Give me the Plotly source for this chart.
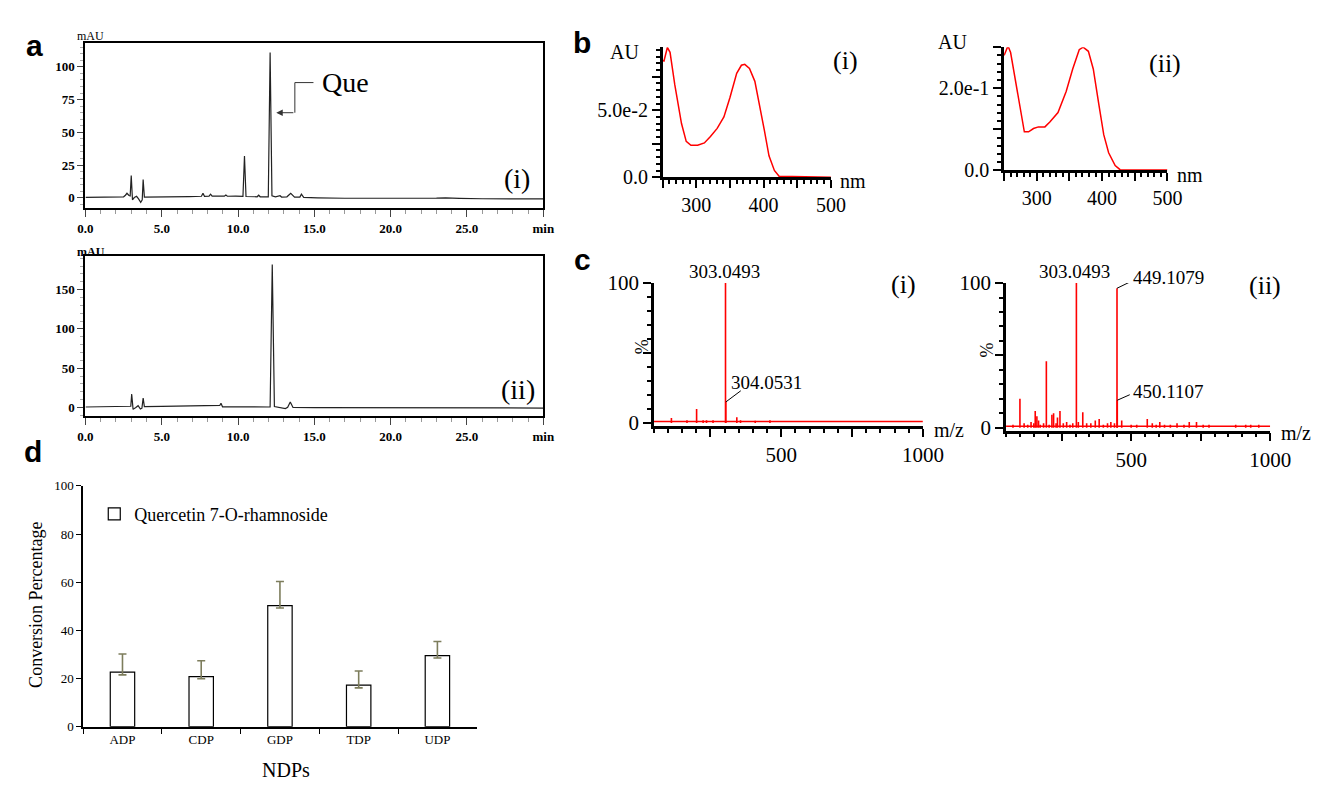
import plotly.graph_objects as go

W, H = 1336, 785
def fx(p): return p / W
def fy(p): return 1 - p / H

SERIF = "Liberation Serif"
SANS = "Liberation Sans"

# ---------------- data ----------------
# (a) HPLC chromatograms, retention time (min) vs absorbance (mAU)
chrom1_min = [0, 1.5, 2.5, 2.62, 2.72, 2.85, 2.93, 3.0, 3.08, 3.2, 3.35, 3.48, 3.62, 3.72, 3.78, 3.86,
              4.5, 6.8, 7.6, 7.7, 7.8, 8.1, 8.2, 8.3, 9.1, 9.2, 9.3, 9.75, 9.85, 10.32, 10.42, 10.52,
              11.25, 11.35, 11.45, 11.98, 12.1, 12.22, 12.45, 12.75, 12.85, 13.2, 13.45, 13.7, 14.05,
              14.15, 14.3, 15.2, 17.0, 23.0, 23.6, 24.5, 26.0, 30.0]
chrom1_mAU = [0.3, 0.4, 0.8, 2.0, 3.5, 1.8, 1.5, 17, -1.5, 0.2, 1.2, -0.8, -3.5, -1.5, 14, 0.6,
              0.6, 1.0, 1.2, 3.5, 1.2, 1.3, 2.8, 1.3, 1.3, 2.2, 1.2, 1.6, 1.3, 1.2, 32, 1.0,
              0.8, 2.0, 0.8, 0.8, 111, 1.5, 0.8, 1.6, 0.6, 0.8, 3.5, 0.5, 0.6,
              2.8, 0.3, 0.0, -0.3, -0.2, 0.0, -0.4, -0.7, -0.8]
chrom2_min = [0, 2.9, 2.97, 3.03, 3.12, 3.3, 3.45, 3.6, 3.7, 3.78, 3.86, 5.0, 8.7, 8.8, 8.88, 8.98,
              12.1, 12.24, 12.38, 12.6, 13.1, 13.25, 13.42, 13.6, 15.0, 30.0]
chrom2_mAU = [0.5, 1.0, 1.5, 17, -2.5, 0.0, 2.2, -2.0, -1.0, 12, 1.0, 1.2, 1.6, 2.5, 5.2, 0.8,
              0.5, 182, 1.0, 0.0, -1.5, 0.2, 7.0, 0.0, -0.2, -0.8]
que_label_rt = 12.1

# (b) UV spectra
uv1_nm = [250, 252, 257, 261, 268, 278, 285, 292, 302, 312, 321, 331, 341, 350, 360, 367, 372,
          379, 387, 394, 401, 408, 416, 423, 500]
uv1_AU = [0.0872, 0.0868, 0.0969, 0.0933, 0.0691, 0.0401, 0.0268, 0.0239, 0.0239, 0.0256, 0.0305,
          0.0365, 0.0450, 0.0595, 0.0776, 0.0836, 0.0843, 0.0812, 0.0716, 0.0546, 0.0353, 0.0160,
          0.0051, 0.0007, 0.0]
uv2_nm = [250, 256, 260, 267.5, 275, 281, 287.5, 295, 302.5, 312.5, 320, 332.5, 345, 355, 365, 371,
          379, 386.5, 395, 402.5, 410, 420, 427.5, 500]
uv2_AU = [0.28, 0.303, 0.287, 0.22, 0.153, 0.094, 0.094, 0.102, 0.106, 0.106, 0.118, 0.141, 0.192,
          0.247, 0.294, 0.300, 0.290, 0.247, 0.161, 0.087, 0.043, 0.012, 0.002, 0.001]

# (c) mass spectra (relative intensity %)
ms1_mz = [112, 167, 201, 224, 236, 259, 303.0493, 304.0531, 343, 356, 408, 460]
ms1_pct = [3.5, 2.0, 10, 2.0, 2.0, 2.0, 100, 15, 4.0, 2.0, 1.5, 2.0]
ms2_mz = [75, 100, 115, 128, 140, 150, 155, 161, 167, 173, 185, 195, 205, 215, 221, 230, 235, 244,
          256, 268, 280, 290, 303.0493, 310, 326, 340, 355, 371, 385, 400, 415, 427, 440, 449.1079,
          450.1107, 466, 500, 520, 558, 576, 590, 603, 620, 641, 665, 690, 709, 735, 759, 780, 876,
          912, 930, 959]
ms2_pct = [2, 20, 3, 2, 4, 3, 11.6, 8, 5, 2, 3, 46, 2, 9, 10, 3, 7, 11.6, 3, 4, 2, 3, 100, 4, 10.7,
           3, 3, 5, 6, 2, 3, 4, 3, 96.4, 19, 5, 2, 2, 6, 3, 2, 4, 2, 2, 3, 2, 4, 4, 2, 2, 2, 2, 2, 2]
ms_floor_pct = 1.0
ms_mz_span = [50, 1000]

# (d) conversion with NDPs
ndp_names = ["ADP", "CDP", "GDP", "TDP", "UDP"]
conversion_pct = [22.7, 20.8, 50.3, 17.3, 29.5]
conversion_err_plus = [7.5, 6.6, 10.0, 5.8, 5.9]
conversion_err_minus = [1.2, 0.9, 1.0, 1.2, 1.0]


def sticks(mz, pct):
    xs, ys = [], []
    for m, p in zip(mz, pct):
        xs += [m, m, None]
        ys += [0, p, None]
    return xs, ys


fig = go.Figure()

# a
fig.add_trace(go.Scatter(x=chrom1_min, y=chrom1_mAU, mode="lines", line=dict(color="#222", width=1.2),
                         xaxis="x", yaxis="y", showlegend=False, name="chromatogram (i)"))
fig.add_trace(go.Scatter(x=chrom2_min, y=chrom2_mAU, mode="lines", line=dict(color="#222", width=1.2),
                         xaxis="x2", yaxis="y2", showlegend=False, name="chromatogram (ii)"))
# b
fig.add_trace(go.Scatter(x=uv1_nm, y=uv1_AU, mode="lines", line=dict(color="#ff0000", width=1.5),
                         xaxis="x3", yaxis="y3", showlegend=False, name="UV (i)"))
fig.add_trace(go.Scatter(x=uv2_nm, y=uv2_AU, mode="lines", line=dict(color="#ff0000", width=1.5),
                         xaxis="x4", yaxis="y4", showlegend=False, name="UV (ii)"))
# c
for xa, ya, mz, pct in (("x5", "y5", ms1_mz, ms1_pct), ("x6", "y6", ms2_mz, ms2_pct)):
    fig.add_trace(go.Scatter(x=ms_mz_span, y=[ms_floor_pct] * 2, mode="lines",
                             line=dict(color="#ff0000", width=1.5), xaxis=xa, yaxis=ya, showlegend=False))
    sx, sy = sticks(mz, pct)
    fig.add_trace(go.Scatter(x=sx, y=sy, mode="lines", line=dict(color="#ff0000", width=1.6),
                             xaxis=xa, yaxis=ya, showlegend=False, connectgaps=False))
# d
fig.add_trace(go.Bar(x=ndp_names, y=conversion_pct, width=0.31, name="Quercetin 7-O-rhamnoside",
                     marker=dict(color="white", line=dict(color="black", width=1.2)),
                     error_y=dict(type="data", symmetric=False, array=conversion_err_plus,
                                  arrayminus=conversion_err_minus, color="#7d7d5c", thickness=1.6, width=4),
                     xaxis="x7", yaxis="y7", showlegend=True))

tick_bold = dict(family=SERIF, size=13, color="black", weight="bold")
a_x = dict(range=[0, 30], tickmode="array", tickvals=[0, 5, 10, 15, 20, 25, 30],
           ticktext=["0.0", "5.0", "10.0", "15.0", "20.0", "25.0", "min"],
           ticks="outside", ticklen=7, tickwidth=1, tickcolor="#444",
           minor=dict(tickmode="linear", tick0=0, dtick=1, ticks="outside", ticklen=4, tickwidth=1, tickcolor="#999"),
           showline=True, mirror=True, linecolor="black", linewidth=2, showgrid=False, zeroline=False,
           tickfont=tick_bold, domain=[fx(71), fx(539)])


def a_y(rng, vals, mdt, dom):
    return dict(range=rng, tickmode="array", tickvals=vals, ticks="outside", ticklen=6, tickwidth=1,
                tickcolor="#444",
                minor=dict(tickmode="linear", tick0=0, dtick=mdt, ticks="outside", ticklen=3, tickwidth=1,
                           tickcolor="#aaa"),
                showline=True, mirror=True, linecolor="black", linewidth=2, showgrid=False, zeroline=False,
                tickfont=tick_bold, domain=dom)


def spec_x(dom, rng, vals, text, mt0, mdt, size):
    return dict(range=rng, tickmode="array", tickvals=vals, ticktext=text, ticks="outside", ticklen=8,
                tickwidth=2, tickcolor="black",
                minor=dict(tickmode="linear", tick0=mt0, dtick=mdt, ticks="outside", ticklen=4, tickwidth=1.5,
                           tickcolor="black"),
                showline=True, linecolor="black", linewidth=2.5, showgrid=False, zeroline=False,
                tickfont=dict(family=SERIF, size=size, color="black"), domain=dom)


def spec_y(dom, rng, vals, text, mdt, size):
    return dict(range=rng, tickmode="array", tickvals=vals, ticktext=text, ticks="outside", ticklen=8,
                tickwidth=2, tickcolor="black",
                minor=dict(tickmode="linear", tick0=0, dtick=mdt, ticks="outside", ticklen=4, tickwidth=1.5,
                           tickcolor="black"),
                showline=True, linecolor="black", linewidth=2.5, showgrid=False, zeroline=False,
                tickfont=dict(family=SERIF, size=size, color="black"), domain=dom)


bx_vals = [250, 300, 350, 400, 450, 500]
bx_text = ["", "300", "", "400", "", "500"]
cx_vals = [250, 500, 750, 1000]
cx_text = ["", "500", "", "1000"]

fig.update_layout(
    width=W, height=H, margin=dict(l=0, r=0, t=0, b=0), paper_bgcolor="white", plot_bgcolor="white",
    font=dict(family=SERIF, color="black"),
    xaxis=dict(a_x, anchor="y"),
    yaxis=dict(a_y([-8, 118], [0, 25, 50, 75, 100], 5, [fy(194), fy(24)]), anchor="x"),
    xaxis2=dict(a_x, anchor="y2"),
    yaxis2=dict(a_y([-11, 193], [0, 50, 100, 150], 10, [fy(408), fy(243)]), anchor="x2"),
    xaxis3=dict(spec_x([fx(661), fx(833)], [250, 500], bx_vals, bx_text, 250, 10, 20), anchor="y3"),
    yaxis3=dict(spec_y([fy(162), fy(28)], [0, 0.0971], [0, 0.025, 0.05, 0.075], ["0.0", "", "5.0e-2", ""],
                       0.005, 20), anchor="x3"),
    xaxis4=dict(spec_x([fx(1010), fx(1177)], [250, 500], bx_vals, bx_text, 250, 10, 20), anchor="y4"),
    yaxis4=dict(spec_y([fy(155), fy(28)], [0, 0.3], [0, 0.1, 0.2, 0.3], ["0.0", "", "2.0e-1", ""],
                       0.02, 20), anchor="x4"),
    xaxis5=dict(spec_x([fx(652), fx(927)], ms_mz_span, cx_vals, cx_text, 50, 50, 21), anchor="y5"),
    yaxis5=dict(spec_y([fy(418), fy(271)], [-2, 100], [0, 50, 100], ["0", "", "100"], 10, 21), anchor="x5"),
    xaxis6=dict(spec_x([fx(1012), fx(1282)], ms_mz_span, cx_vals, cx_text, 50, 50, 21), anchor="y6"),
    yaxis6=dict(spec_y([fy(423), fy(271)], [-2, 100], [0, 50, 100], ["0", "", "100"], 10, 21), anchor="x6"),
    xaxis7=dict(domain=[fx(68.6), fx(471)], type="category", tickson="boundaries", ticks="outside", ticklen=5,
                tickcolor="black", showline=True, linecolor="black", linewidth=2, showgrid=False,
                tickfont=dict(family=SERIF, size=13, color="black"), anchor="y7"),
    yaxis7=dict(domain=[fy(728), fy(480)], range=[0, 100], dtick=20, ticks="outside", ticklen=5,
                tickcolor="black", showline=True, linecolor="black", linewidth=1.5, showgrid=False,
                zeroline=False, tickfont=dict(family=SERIF, size=13, color="black"), anchor="x7"),
    legend=dict(x=fx(80), y=fy(509), xanchor="left", yanchor="middle", bgcolor="rgba(0,0,0,0)",
                font=dict(family=SERIF, size=18, color="black")),
    bargap=0.5,
)

ann = []


def ptext(text, x, y, size, family=SERIF, bold=False, angle=0, xanchor="center"):
    ann.append(dict(text=text, x=fx(x), y=fy(y), xref="paper", yref="paper", showarrow=False,
                    xanchor=xanchor, yanchor="middle", textangle=angle,
                    font=dict(family=family, size=size, color="black", weight="bold" if bold else "normal")))


def dtext(text, x, y, xr, yr, size, xanchor="center"):
    ann.append(dict(text=text, x=x, y=y, xref=xr, yref=yr, showarrow=False, xanchor=xanchor, yanchor="middle",
                    font=dict(family=SERIF, size=size, color="black")))


# panel letters
ptext("a", 19, 26, 30, SANS, True)
ptext("b", 579, 23, 30, SANS, True)
ptext("c", 579, 247, 30, SANS, True)
ptext("d", 17, 445, 30, SANS, True)

# a texts
ptext("mAU", 76, 16, 12)
ptext("<b>mAU</b>", 77, 239, 12)
ptext("(i)", 512, 163, 28)
ptext("(ii)", 513, 381, 28)
dtext("Que", que_label_rt + 3.3, 88, "x", "y", 28, xanchor="left")
ann.append(dict(x=que_label_rt + 0.4, y=65, ax=que_label_rt + 1.62, ay=65, xref="x", yref="y", axref="x",
                ayref="y", text="", showarrow=True, arrowhead=2, arrowsize=1.3, arrowwidth=1,
                arrowcolor="#333", standoff=0))

# b texts
ptext("AU", 622, 33, 20)
ptext("(i)", 848, 42, 26)
ptext("nm", 856, 166, 20)
ptext("AU", 957, 23, 20)
ptext("(ii)", 1175, 45, 26)
ptext("nm", 1200, 160, 20)

# c texts (peak labels in paper space, above the 100 % line)
ptext("303.0493", 724, 259, 19)
dtext("304.0531", 316, 29.2, "x5", "y5", 19, xanchor="left")
ptext("(i)", 907, 272, 26)
ptext("m/z", 954, 422, 20)
ptext("%", 640, 337, 18, angle=-90)
ptext("303.0493", 1082, 259, 19)
ptext("449.1079", 1140, 265, 19, xanchor="left")
dtext("450.1107", 500, 24.8, "x6", "y6", 19, xanchor="left")
ptext("(ii)", 1277, 273, 26)
ptext("m/z", 1308, 425, 20)
ptext("%", 993, 340, 18, angle=-90)

# d texts
ptext("Conversion Percentage", 21, 603, 18, angle=-90)
ptext("NDPs", 276, 773, 20)

fig.update_layout(annotations=ann)

shapes = [
    dict(type="path", xref="x", yref="y",
         path=f"M {que_label_rt + 1.62},65 L {que_label_rt + 1.62},88 L {que_label_rt + 2.84},88",
         line=dict(color="#333", width=1)),
    dict(type="line", xref="x5", yref="y5", x0=304.0531, y0=15, x1=357, y1=23, line=dict(color="black", width=1)),
    dict(type="line", xref="x6", yref="y6", x0=449.1079, y0=96.4, x1=495, y1=100.7, line=dict(color="black", width=1)),
    dict(type="line", xref="x6", yref="y6", x0=450.1107, y0=19, x1=495, y1=22.8, line=dict(color="black", width=1)),
]
fig.update_layout(shapes=shapes)

fig.write_html("out.html")
